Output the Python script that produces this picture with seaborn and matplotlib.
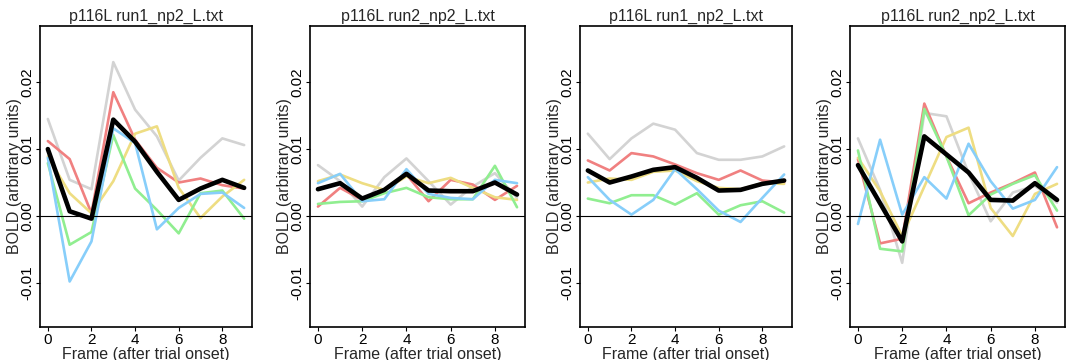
import pandas as pd
import seaborn as sns
import matplotlib.pyplot as plt

frames = list(range(10))
titles = ["p116L run1_np2_L.txt", "p116L run2_np2_L.txt",
          "p116L run1_np2_L.txt", "p116L run2_np2_L.txt"]
trial_names = ["t1", "t2", "t3", "t4", "t5"]
trial_colors = ["#d3d3d3", "#f08080", "#eedd82", "#90ee90", "#87cefa"]

# panel 1
p1_trials = [
    [0.0145, 0.0054, 0.0040, 0.0230, 0.0159, 0.0119, 0.0053, 0.0087, 0.0116, 0.0106],
    [0.0112, 0.0085, 0.0004, 0.0185, 0.0114, 0.0072, 0.0050, 0.0056, 0.0046, 0.0041],
    [0.0089, 0.0034, 0.0004, 0.0052, 0.0123, 0.0134, 0.0042, -0.0003, 0.0029, 0.0054],
    [0.0079, -0.0043, -0.0024, 0.0121, 0.0041, 0.0009, -0.0026, 0.0034, 0.0038, -0.0004],
    [0.0087, -0.0098, -0.0038, 0.0131, 0.0109, -0.0020, 0.0012, 0.0033, 0.0035, 0.0012],
]
p1_mean = [0.0100, 0.0007, -0.0004, 0.0144, 0.0111, 0.0066, 0.0024, 0.0041, 0.0054, 0.0042]

# panel 2
p2_trials = [
    [0.0076, 0.0052, 0.0014, 0.0058, 0.0086, 0.0052, 0.0017, 0.0044, 0.0064, 0.0027],
    [0.0014, 0.0042, 0.0024, 0.0039, 0.0062, 0.0022, 0.0054, 0.0047, 0.0024, 0.0045],
    [0.0052, 0.0062, 0.0049, 0.0039, 0.0059, 0.0049, 0.0057, 0.0042, 0.0028, 0.0024],
    [0.0018, 0.0021, 0.0022, 0.0034, 0.0042, 0.0028, 0.0025, 0.0025, 0.0075, 0.0013],
    [0.0049, 0.0063, 0.0022, 0.0025, 0.0070, 0.0033, 0.0027, 0.0025, 0.0054, 0.0049],
]
p2_mean = [0.0040, 0.0049, 0.0026, 0.0039, 0.0063, 0.0038, 0.0037, 0.0037, 0.0050, 0.0032]

# panel 3
p3_trials = [
    [0.0123, 0.0085, 0.0116, 0.0138, 0.0129, 0.0094, 0.0084, 0.0084, 0.0089, 0.0104],
    [0.0083, 0.0068, 0.0094, 0.0089, 0.0077, 0.0064, 0.0054, 0.0068, 0.0053, 0.0050],
    [0.0050, 0.0056, 0.0054, 0.0066, 0.0068, 0.0052, 0.0042, 0.0040, 0.0049, 0.0048],
    [0.0026, 0.0019, 0.0031, 0.0031, 0.0017, 0.0034, 0.0002, 0.0016, 0.0022, 0.0005],
    [0.0058, 0.0024, 0.0002, 0.0024, 0.0070, 0.0040, 0.0008, -0.0009, 0.0027, 0.0062],
]
p3_mean = [0.0068, 0.0050, 0.0059, 0.0069, 0.0073, 0.0057, 0.0038, 0.0039, 0.0048, 0.0053]

# panel 4
p4_trials = [
    [0.0116, 0.0039, -0.0070, 0.0154, 0.0149, 0.0064, -0.0008, 0.0035, 0.0045, 0.0020],
    [0.0085, -0.0041, -0.0034, 0.0168, 0.0089, 0.0019, 0.0035, 0.0049, 0.0065, -0.0017],
    [0.0087, 0.0037, -0.0030, 0.0044, 0.0118, 0.0132, 0.0012, -0.0030, 0.0033, 0.0048],
    [0.0098, -0.0049, -0.0053, 0.0160, 0.0089, 0.0001, 0.0032, 0.0048, 0.0061, 0.0008],
    [-0.0012, 0.0114, 0.0002, 0.0058, 0.0026, 0.0108, 0.0052, 0.0011, 0.0024, 0.0073],
]
p4_mean = [0.0076, 0.0019, -0.0038, 0.0119, 0.0092, 0.0065, 0.0024, 0.0023, 0.0049, 0.0024]

panels = [(p1_trials, p1_mean), (p2_trials, p2_mean),
          (p3_trials, p3_mean), (p4_trials, p4_mean)]

sns.set_theme(style="ticks")
plt.rcParams["font.family"] = ["Liberation Sans", "DejaVu Sans"]

fig = plt.figure(figsize=(10.8, 3.6), dpi=100)
lefts = [40, 310, 580, 850]
widths = [212, 215, 212, 215]

for i, (trials, mean) in enumerate(panels):
    ax = fig.add_axes([lefts[i] / 1080, 1 - 327 / 360, widths[i] / 1080, 301 / 360])
    rows = []
    for name, vals in zip(trial_names, trials):
        for f, v in zip(frames, vals):
            rows.append({"frame": f, "bold": v, "trial": name})
    df = pd.DataFrame(rows)
    sns.lineplot(data=df, x="frame", y="bold", hue="trial", palette=trial_colors,
                 lw=1.9, legend=False, ax=ax)
    ax.axhline(0, color="black", lw=0.8)
    sns.lineplot(x=frames, y=mean, color="black", lw=3.3, ax=ax)

    ax.set_xlim(-0.36, 9.36)
    ax.set_ylim(-0.0166, 0.0284)
    ax.set_xticks([0, 2, 4, 6, 8])
    ax.set_yticks([-0.01, 0.0, 0.01, 0.02])
    ax.set_yticklabels(["-0.01", "0.00", "0.01", "0.02"], rotation=90, va="center")
    ax.tick_params(labelsize=11, length=3, width=0.8, pad=1, colors="black")
    for s in ax.spines.values():
        s.set_linewidth(1.2)
        s.set_color("black")
    ax.set_title(titles[i], fontsize=11.5, pad=4)
    ax.set_xlabel("Frame (after trial onset)", fontsize=11.5, labelpad=0)
    ax.set_ylabel("BOLD (arbitrary units)", fontsize=11.5, labelpad=-1)

fig.savefig("out.png", dpi=100)
